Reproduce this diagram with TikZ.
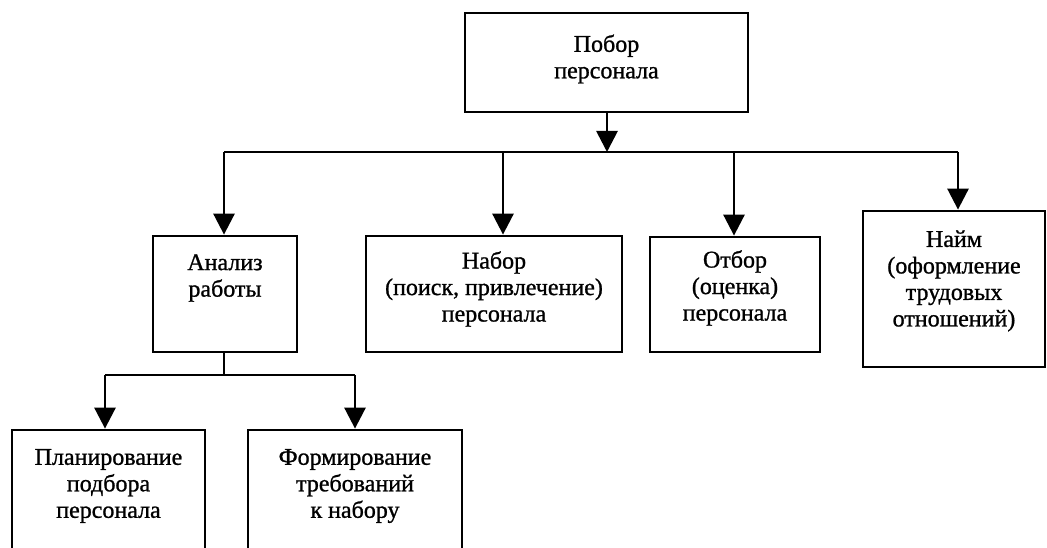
\documentclass[tikz,border=0pt]{standalone}
\usepackage{fontspec}
\setmainfont[FakeBold=1]{Liberation Serif}
\usetikzlibrary{arrows.meta}
\begin{document}
\begin{tikzpicture}[x=1pt,y=-1pt,
  box/.style={draw=black,line width=2.8pt,rectangle,inner sep=0pt},
  txt/.style={align=center,inner sep=0pt,font=\fontsize{24}{26.5}\selectfont},
  link/.style={draw=black,line width=2.8pt},
  arr/.style={link,-{Triangle[width=21pt,length=21pt]}}]
\clip (0,0) rectangle (1047,548);
\fill[white] (0,0) rectangle (1047,548);
% boxes
\node[box,minimum width=283pt,minimum height=99pt] (top) at (606.5,62.5) {};
\node[box,minimum width=144pt,minimum height=116pt] (anal) at (225,294) {};
\node[box,minimum width=256pt,minimum height=116pt] (nab) at (494,294) {};
\node[box,minimum width=170pt,minimum height=115pt] (otb) at (735,294.5) {};
\node[box,minimum width=182pt,minimum height=156pt] (naim) at (954,289) {};
\node[box,minimum width=193pt,minimum height=160pt] (plan) at (108.5,510) {};
\node[box,minimum width=214pt,minimum height=160pt] (form) at (355,510) {};
% texts
\node[txt] (top-t) at (606.5,59) {Побор\\персонала};
\node[txt] (anal-t) at (225,278) {Анализ\\работы};
\node[txt] (nab-t) at (494,289) {Набор\\(поиск, привлечение)\\персонала};
\node[txt] (otb-t) at (735,288) {Отбор\\(оценка)\\персонала};
\node[txt] (naim-t) at (954,281) {Найм\\(оформление\\трудовых\\отношений)};
\node[txt] (plan-t) at (108.5,486) {Планирование\\подбора\\персонала};
\node[txt] (form-t) at (355,486) {Формирование\\требований\\к набору};
% connectors
\coordinate (hub) at (607,152);
\coordinate (b1) at (224,152);
\coordinate (b2) at (503,152);
\coordinate (b3) at (734,152);
\coordinate (b4) at (958,152);
\draw[arr] (top.south -| hub) -- (hub);
\draw[link] (b1) -- (b4);
\draw[arr] (b1) -- (b1 |- anal.north);
\draw[arr] (b2) -- (b2 |- nab.north);
\draw[arr] (b3) -- (b3 |- otb.north);
\draw[arr] (b4) -- (b4 |- naim.north);
\coordinate (hub2) at (224,375);
\coordinate (c1) at (105,375);
\coordinate (c2) at (355,375);
\draw[link] (anal.south -| hub2) -- (hub2);
\draw[link] (c1) -- (c2);
\draw[arr] (c1) -- (c1 |- plan.north);
\draw[arr] (c2) -- (c2 |- form.north);
\end{tikzpicture}
\end{document}
